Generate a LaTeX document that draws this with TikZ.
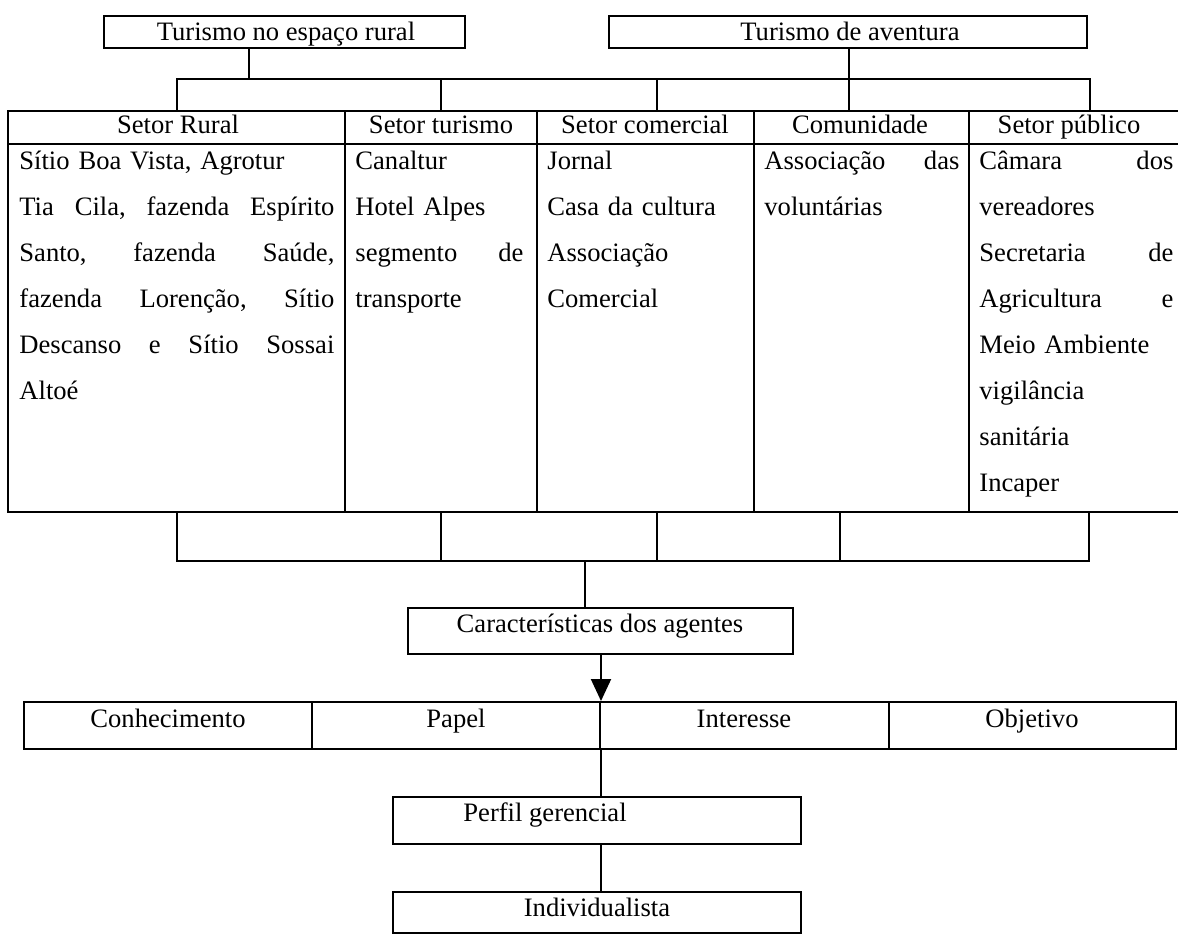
\documentclass[tikz,border=0pt]{standalone}
\usepackage{fontspec}
\setmainfont{Liberation Serif}
\usetikzlibrary{fit,arrows.meta}
\setlength{\parindent}{0pt}
% a justified line: words spread over the given width
\newcommand{\fullline}[2]{\leavevmode\hbox to #1{#2}}
\begin{document}
\begin{tikzpicture}[x=0.5pt,y=-0.5pt,
  frame/.style={draw, line width=1pt, inner sep=0pt},
  txt/.style={font=\fontsize{13.3}{23}\selectfont, inner sep=0pt, anchor=base},
  cell/.style={font=\fontsize{13.3}{23}\selectfont, inner sep=0pt, anchor=north west, align=left},
  link/.style={line width=1pt}]
\useasboundingbox (0,0) rectangle (1178,935);

% top boxes
\node[frame, fit={(104,16) (465,48)}] (rural) {};
\node[txt] (ruralT) at (286,41) {Turismo no espaço rural};
\node[frame, fit={(609,16) (1087,48)}] (aventura) {};
\node[txt] (aventuraT) at (850,41) {Turismo de aventura};

% table header
\node[frame, fit={(8,111) (345,144)}] (h1) {};
\node[frame, fit={(345,111) (537,144)}] (h2) {};
\node[frame, fit={(537,111) (754,144)}] (h3) {};
\node[frame, fit={(754,111) (969,144)}] (h4) {};
\node[frame, fit={(969,111) (1190,144)}] (h5) {};
\node[txt] (h1T) at (178,134) {Setor Rural};
\node[txt] (h2T) at (441,134) {Setor turismo};
\node[txt] (h3T) at (645,134) {Setor comercial};
\node[txt] (h4T) at (860,134) {Comunidade};
\node[txt] (h5T) at (1069,134) {Setor público};

% table body
\node[frame, fit={(8,144) (345,512)}] (b1) {};
\node[frame, fit={(345,144) (537,512)}] (b2) {};
\node[frame, fit={(537,144) (754,512)}] (b3) {};
\node[frame, fit={(754,144) (969,512)}] (b4) {};
\node[frame, fit={(969,144) (1190,512)}] (b5) {};

\node[cell, text width=158pt] (b1T) at (19,136.8) {\strut Sítio Boa Vista, Agrotur\\
  \fullline{157.5pt}{Tia\hfill Cila,\hfill fazenda\hfill Espírito}\\
  \fullline{157.5pt}{Santo,\hfill fazenda\hfill Saúde,}\\
  \fullline{157.5pt}{fazenda\hfill Lorenção,\hfill Sítio}\\
  \fullline{157.5pt}{Descanso\hfill e\hfill Sítio\hfill Sossai}\\
  Altoé};
\node[cell, text width=85pt] (b2T) at (355,136.8) {\strut Canaltur\\
  Hotel Alpes\\
  \fullline{84pt}{segmento\hfill de}\\
  transporte};
\node[cell, text width=98pt] (b3T) at (547,136.8) {\strut Jornal\\
  Casa da cultura\\
  Associação\\
  Comercial};
\node[cell, text width=97.5pt] (b4T) at (764,136.8) {\strut\fullline{97.5pt}{Associação\hfill das}\\
  voluntárias};
\node[cell, text width=97pt] (b5T) at (979,136.8) {\strut\fullline{97pt}{Câmara\hfill dos}\\
  vereadores\\
  \fullline{97pt}{Secretaria\hfill de}\\
  \fullline{97pt}{Agricultura\hfill e}\\
  Meio Ambiente\\
  vigilância\\
  sanitária\\
  Incaper};

% connectors above the table
\coordinate (sL) at (249,79);
\coordinate (d1) at (177,79);
\coordinate (d2) at (441,79);
\coordinate (d3) at (657,79);
\coordinate (d4) at (849,79);
\coordinate (d5) at (1090,79);
\draw[link] (rural.south -| sL) -- (sL);
\draw[link] (h1.north -| d1) |- (d5) -- (h5.north -| d5);
\draw[link] (d2) -- (h2.north -| d2);
\draw[link] (d3) -- (h3.north -| d3);
\draw[link] (aventura.south -| d4) -- (h4.north -| d4);

% connectors below the table
\coordinate (e1) at (177,561);
\coordinate (e2) at (441,561);
\coordinate (e3) at (657,561);
\coordinate (e4) at (840,561);
\coordinate (e5) at (1089,561);
\coordinate (e0) at (585,561);
\draw[link] (b1.south -| e1) |- (e5) -- (b5.south -| e5);
\draw[link] (b2.south -| e2) -- (e2);
\draw[link] (b3.south -| e3) -- (e3);
\draw[link] (b4.south -| e4) -- (e4);

% characteristics
\node[frame, fit={(408,608) (793,654)}] (car) {};
\node[txt] (carT) at (600,632) {Características dos agentes};
\draw[link] (e0) -- (car.north -| e0);

\node[frame, fit={(24,702) (312,749)}] (k1) {};
\node[frame, fit={(312,702) (600,749)}] (k2) {};
\node[frame, fit={(600,702) (889,749)}] (k3) {};
\node[frame, fit={(889,702) (1176,749)}] (k4) {};
\node[txt] (k1T) at (168,727) {Conhecimento};
\node[txt] (k2T) at (456,727) {Papel};
\node[txt] (k3T) at (744,727) {Interesse};
\node[txt] (k4T) at (1032,727) {Objetivo};
\draw[link, -{Triangle[length=11pt,width=10pt]}] (car.south -| k2.north east) -- (k2.north east);

% profile
\node[frame, fit={(393,797) (801,844)}] (pg) {};
\node[txt] (pgT) at (545,821) {Perfil gerencial};
\draw[link] (k2.south east) -- (pg.north -| k2.south east);

\node[frame, fit={(393,892) (801,933)}] (ind) {};
\node[txt] (indT) at (597,916) {Individualista};
\draw[link] (pg.south -| k2.south east) -- (ind.north -| k2.south east);
\end{tikzpicture}
\end{document}
